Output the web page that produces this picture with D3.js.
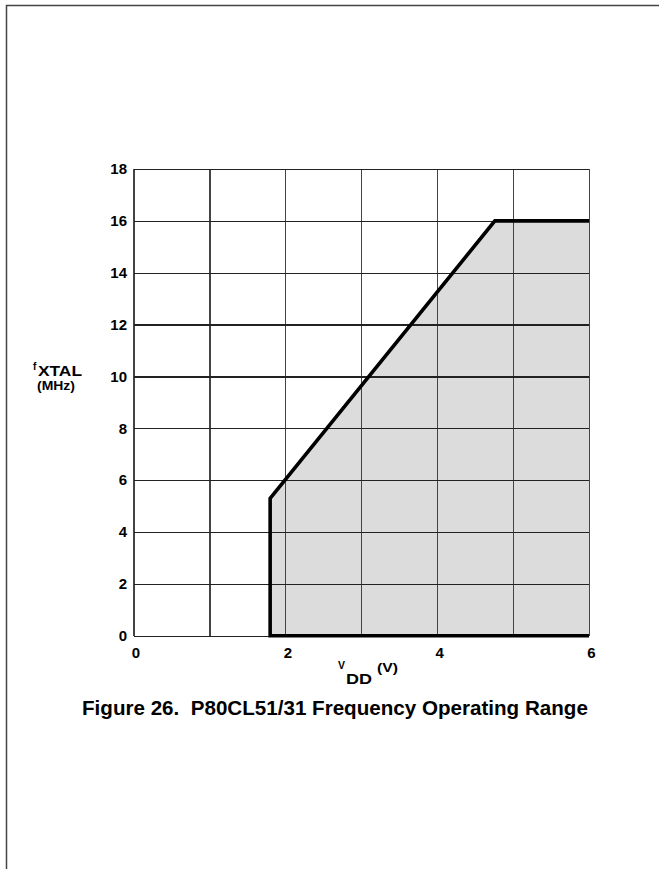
<!DOCTYPE html>
<html>
<head>
<meta charset="utf-8">
<script src="https://cdn.jsdelivr.net/npm/d3@7"></script>
<style>
  body { margin: 0; background: #fff; }
  svg { display: block; font-family: "Liberation Sans", Arial, sans-serif; font-weight: bold; }
</style>
</head>
<body>
<div id="chart"></div>
<script>
// values
const xTickValues = [0, 2, 4, 6];
const xGridValues = [0, 1, 2, 3, 4, 5, 6];
const yTickValues = [0, 2, 4, 6, 8, 10, 12, 14, 16, 18];
// operating region outline, VDD (V) vs fXTAL (MHz)
const outlineVdd = [6, 4.76, 1.8, 1.8, 6];
const outlineFreq = [16, 16, 5.3, 0, 0];
const captionText = 'Figure 26.  P80CL51/31 Frequency Operating Range';

var fullWidth = 659;
var fullHeight = 869;
var margin = {top: 169, left: 133.5};
var width = 589 - margin.left;
var height = 635.7 - margin.top;

var svg = d3.select('#chart')
  .append('svg')
  .attr('width', fullWidth)
  .attr('height', fullHeight);

// page frame (top and left rule)
svg.append('path')
  .attr('d', `M6.5,${fullHeight} V5.5 H${fullWidth}`)
  .attr('fill', 'none')
  .attr('stroke', '#444')
  .attr('stroke-width', 1.5);

var xScale = d3.scaleLinear().domain([0, 6]).range([0, width]);
var yScale = d3.scaleLinear().domain([0, 18]).range([height, 0]);

var g = svg.append('g')
  .attr('transform', `translate(${margin.left},${margin.top})`);

var pts = outlineVdd.map((v, i) => [v, outlineFreq[i]]);

// shaded region
g.append('path')
  .datum(pts)
  .attr('d', d3.line().x(d => xScale(d[0])).y(d => yScale(d[1])).curve(d3.curveLinearClosed))
  .attr('fill', '#dcdcdc')
  .attr('stroke', 'none');

// grid
var xGrid = d3.axisBottom(xScale).tickValues(xGridValues).tickSize(-height).tickFormat('');
var yGrid = d3.axisLeft(yScale).tickValues(yTickValues).tickSize(-width).tickFormat('');

g.append('g')
  .attr('class', 'grid x')
  .attr('transform', `translate(0,${height})`)
  .call(xGrid);
g.append('g')
  .attr('class', 'grid y')
  .call(yGrid);
g.selectAll('.grid .domain').remove();
g.selectAll('.grid line')
  .attr('stroke-width', 1.3)
  .attr('shape-rendering', 'crispEdges');
g.selectAll('.grid.x line').attr('stroke', '#444');
g.selectAll('.grid.y line').attr('stroke', '#222');

// thick boundary
g.append('path')
  .datum(pts)
  .attr('d', d3.line().x(d => xScale(d[0])).y(d => yScale(d[1])))
  .attr('fill', 'none')
  .attr('stroke', '#000')
  .attr('stroke-width', 3.6)
  .attr('stroke-linejoin', 'miter');

// tick labels
var yAxis = d3.axisLeft(yScale).tickValues(yTickValues).tickSize(0).tickPadding(6.5)
  .tickFormat(d3.format('d'));
var xAxis = d3.axisBottom(xScale).tickValues(xTickValues).tickSize(0).tickPadding(12)
  .tickFormat(d3.format('d'));

g.append('g').attr('class', 'axis y').call(yAxis);
g.append('g').attr('class', 'axis x')
  .attr('transform', `translate(0,${height})`)
  .call(xAxis);
g.selectAll('.axis .domain').remove();
g.selectAll('.axis text')
  .attr('font-family', '"Liberation Sans", Arial, sans-serif')
  .attr('font-weight', 'bold')
  .attr('font-size', 15)
  .attr('fill', '#000');
g.selectAll('.axis.x text').attr('dx', 2);

// small helper for the stretched axis-title pieces
var label = (txt, x, y, size, len) => {
  var t = svg.append('text')
    .attr('x', x)
    .attr('y', y)
    .attr('font-size', size)
    .attr('fill', '#000')
    .text(txt);
  if(len) t.attr('textLength', len).attr('lengthAdjust', 'spacingAndGlyphs');
  return t;
};

// y axis title: fXTAL (MHz)
label('f', 33, 369.5, 10);
label('XTAL', 38, 376, 15.5, 44);
label('(MHz)', 37, 389.5, 13.5, 38);

// x axis title: VDD (V)
label('V', 338, 669, 10.5);
label('DD', 346, 683.5, 15.5, 26);
label('(V)', 377, 671.5, 13.5, 21);

// caption
svg.append('text')
  .attr('x', 82)
  .attr('y', 714.5)
  .attr('font-size', 20.6)
  .attr('fill', '#000')
  .style('white-space', 'pre')
  .text(captionText);
</script>
</body>
</html>
